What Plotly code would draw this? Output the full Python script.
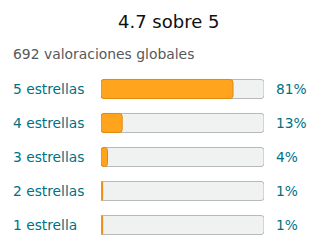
import plotly.graph_objects as go

categories = ["5 estrellas", "4 estrellas", "3 estrellas", "2 estrellas", "1 estrella"]
percents = [81, 13, 4, 1, 1]
pct_labels = ["81%", "13%", "4%", "1%", "1%"]
title_text = "4.7 sobre 5"
subtitle_text = "692 valoraciones globales"

rows = list(range(len(categories)))
FONT = "DejaVu Sans"
TEAL = "#007185"

fig = go.Figure()
fig.add_trace(go.Bar(
    y=rows, x=[100] * len(rows), base=[0] * len(rows), orientation="h", width=0.56,
    marker=dict(color="#F0F2F2", line=dict(color="#B7B9B9", width=1), cornerradius=3),
    hoverinfo="skip", showlegend=False,
))
fig.add_trace(go.Bar(
    y=rows, x=[-p for p in percents], base=percents, orientation="h", width=0.56,
    marker=dict(color="#FFA41C", line=dict(color="#E08A10", width=1), cornerradius=3),
    hoverinfo="skip", showlegend=False,
))

L, R = 101, 264
W, H = 320, 252
T, B = 72, 10
PH = H - T - B


def px_x(p):
    return (p - L) / (R - L)


def px_y(p):
    return (H - B - p) / PH


ann = []
for r, c, p in zip(rows, categories, pct_labels):
    ann.append(dict(x=px_x(11), xref="paper", y=r, yref="y", text=c,
                    showarrow=False, xanchor="left", yanchor="middle",
                    font=dict(family=FONT, size=13.8, color=TEAL)))
    ann.append(dict(x=px_x(274), xref="paper", y=r, yref="y", text=p,
                    showarrow=False, xanchor="left", yanchor="middle",
                    font=dict(family=FONT, size=13.8, color=TEAL)))
ann.append(dict(x=px_x(168), xref="paper", y=px_y(22), yref="paper", text=title_text,
                showarrow=False, xanchor="center", yanchor="middle",
                font=dict(family=FONT, size=18, color="#0F1111")))
ann.append(dict(x=px_x(11), xref="paper", y=px_y(54), yref="paper", text=subtitle_text,
                showarrow=False, xanchor="left", yanchor="middle",
                font=dict(family=FONT, size=13.9, color="#565959")))

fig.update_layout(
    width=W, height=H, margin=dict(l=L, r=W - R, t=T, b=B),
    paper_bgcolor="white", plot_bgcolor="white", barmode="overlay",
    xaxis=dict(range=[0, 100], visible=False, fixedrange=True),
    yaxis=dict(range=[4.5, -0.5], visible=False, fixedrange=True),
    annotations=ann, font=dict(family=FONT),
)
fig.write_html("out.html", config={"displayModeBar": False})
